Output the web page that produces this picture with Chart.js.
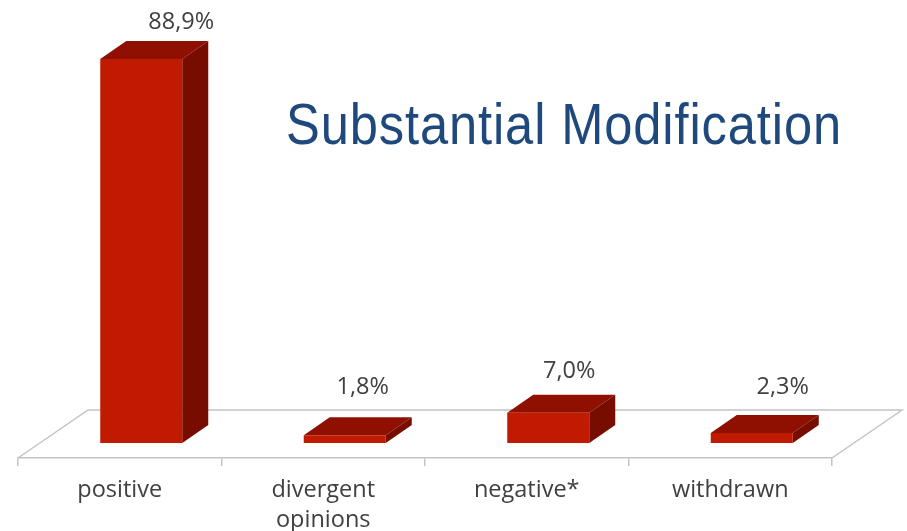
<!DOCTYPE html>
<html>
<head>
<meta charset="utf-8">
<style>
  html, body { margin: 0; padding: 0; background: #fff; }
  canvas { display: block; }
</style>
<script src="https://cdn.jsdelivr.net/npm/chart.js@4"></script>
</head>
<body>
<canvas id="chart" width="907" height="531"></canvas>
<script>
const categories = ['positive', ['divergent', 'opinions'], 'negative*', 'withdrawn'];
const values = [88.9, 1.8, 7.0, 2.3];
const valueLabels = ['88,9%', '1,8%', '7,0%', '2,3%'];
const titleText = 'Substantial Modification';

// 3D look, in pixels
const depthX = 26, depthY = 18;       // bar depth
const floorX = 70, floorY = 48;       // floor depth
const barShift = 21.5;                // bars sit back from the axis tick centres
const labelNudge = [[40, -19], [18, -30], [21, -23], [31, -28]];

const threeD = {
    id: 'threeD',
    beforeDatasetsDraw(chart) {
        const ctx = chart.ctx, a = chart.chartArea;
        // floor outline, the front edge is the x axis border
        ctx.save();
        ctx.strokeStyle = '#c4c4c4';
        ctx.lineWidth = 1.5;
        ctx.beginPath();
        ctx.moveTo(a.left, a.bottom);
        ctx.lineTo(a.left + floorX, a.bottom - floorY);
        ctx.lineTo(a.right + floorX, a.bottom - floorY);
        ctx.lineTo(a.right, a.bottom);
        ctx.stroke();
        ctx.restore();

        // top and side faces come from the bar elements
        ctx.save();
        ctx.translate(barShift, 0);
        chart.getDatasetMeta(0).data.forEach(bar => {
            const l = bar.x - bar.width / 2, r = bar.x + bar.width / 2;
            ctx.fillStyle = '#8f1000';
            ctx.beginPath();
            ctx.moveTo(l, bar.y);
            ctx.lineTo(l + depthX, bar.y - depthY);
            ctx.lineTo(r + depthX, bar.y - depthY);
            ctx.lineTo(r, bar.y);
            ctx.closePath();
            ctx.fill();
            ctx.fillStyle = '#770c00';
            ctx.beginPath();
            ctx.moveTo(r, bar.y);
            ctx.lineTo(r + depthX, bar.y - depthY);
            ctx.lineTo(r + depthX, bar.base - depthY);
            ctx.lineTo(r, bar.base);
            ctx.closePath();
            ctx.fill();
        });
        // the library draws the front faces inside this translate
    },
    afterDatasetsDraw(chart) {
        const ctx = chart.ctx;
        ctx.restore();

        ctx.save();
        ctx.fillStyle = '#404040';
        ctx.font = '23.5px "Open Sans"';
        ctx.textAlign = 'center';
        ctx.textBaseline = 'middle';
        chart.getDatasetMeta(0).data.forEach((bar, i) => {
            ctx.fillText(valueLabels[i], bar.x + barShift + labelNudge[i][0], bar.y - depthY + labelNudge[i][1]);
        });

        ctx.fillStyle = '#1f497d';
        ctx.font = '58px "Liberation Sans Narrow", "Liberation Sans"';
        ctx.letterSpacing = '1px';
        ctx.textAlign = 'left';
        ctx.textBaseline = 'alphabetic';
        ctx.fillText(titleText, 286, 144, 556);
        ctx.restore();
    }
};

new Chart(document.getElementById('chart'), {
    type: 'bar',
    data: {
        labels: categories,
        datasets: [{
            data: values,
            backgroundColor: '#c01a00',
            borderWidth: 0,
            barPercentage: 0.403,
            categoryPercentage: 1
        }]
    },
    options: {
        responsive: false,
        animation: false,
        layout: { padding: { left: 18, right: 75, top: 0, bottom: 0 } },
        plugins: { legend: { display: false }, title: { display: false }, tooltip: { enabled: false } },
        scales: {
            x: {
                afterFit(scale) { scale.height = 73; },
                border: { display: true, color: '#c4c4c4', width: 1.5 },
                grid: { drawOnChartArea: false, color: '#c4c4c4', lineWidth: 1.5, tickLength: 8 },
                ticks: {
                    color: '#404040',
                    padding: 10,
                    maxRotation: 0,
                    autoSkip: false,
                    font: { family: '"Open Sans"', size: 23.5, lineHeight: 1.25 }
                }
            },
            y: {
                display: false,
                min: -3.47,
                max: 102.55
            }
        }
    },
    plugins: [threeD]
});
</script>
</body>
</html>
